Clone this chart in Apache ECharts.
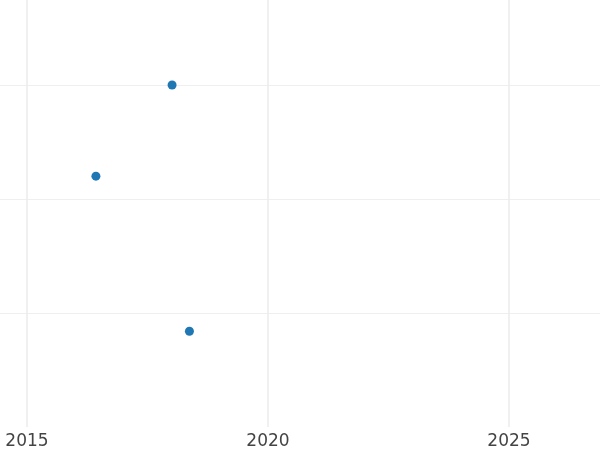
<!DOCTYPE html>
<html>
<head>
<meta charset="utf-8">
<script src="https://cdn.jsdelivr.net/npm/echarts@6/dist/echarts.min.js"></script>
<style>
  html, body { margin: 0; padding: 0; background: #ffffff; }
  #chart { width: 600px; height: 450px; }
</style>
</head>
<body>
<div id="chart"></div>
<script>
  // data
  var years = [2018.01, 2016.43, 2018.37];
  var values = [3.0, 2.2, 0.84];
  var xTicks = [2015, 2020, 2025];

  var points = years.map(function (y, i) { return [y, values[i]]; });

  var myChart = echarts.init(document.getElementById('chart'));

  myChart.setOption({
    backgroundColor: '#ffffff',
    animation: false,
    grid: {
      left: 0,
      right: 0,
      top: 0,
      bottom: 23,
      containLabel: false
    },
    xAxis: {
      type: 'value',
      min: 2014.44,
      max: 2026.888,
      axisLine: {show: false},
      axisTick: {show: false, customValues: xTicks},
      splitLine: {
        show: true,
        showMinLine: true,
        showMaxLine: true,
        lineStyle: {color: '#ebebeb', width: 1.5}
      },
      axisLabel: {
        customValues: xTicks,
        margin: 6,
        fontFamily: '"DejaVu Sans", sans-serif',
        fontSize: 17,
        color: '#444444',
        formatter: function (v) {
          return String(Math.round(v));
        }
      }
    },
    yAxis: {
      type: 'value',
      min: 0,
      max: 3.745,
      interval: 1,
      axisLine: {show: false},
      axisTick: {show: false},
      axisLabel: {show: false},
      splitLine: {
        show: true,
        showMinLine: false,
        showMaxLine: false,
        lineStyle: {color: '#efefef', width: 1}
      }
    },
    series: [
      {
        type: 'scatter',
        data: points,
        symbolSize: 9,
        itemStyle: {color: '#1f77b4', opacity: 1}
      }
    ]
  });
</script>
</body>
</html>
